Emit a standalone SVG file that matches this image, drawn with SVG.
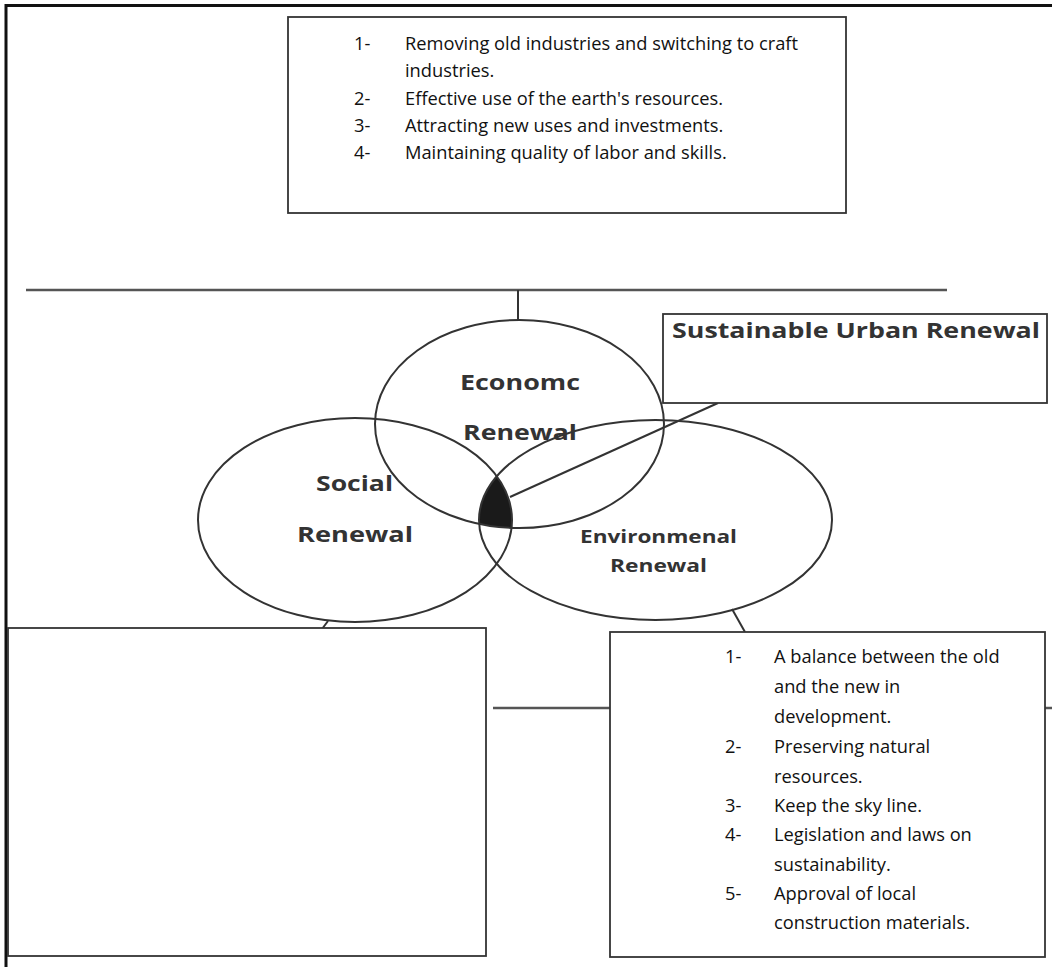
<svg xmlns="http://www.w3.org/2000/svg" width="1052" height="967" viewBox="0 0 1052 967">
<style>
.frame{stroke:#111;stroke-width:3;fill:none}
.box{fill:#fff;stroke:#333;stroke-width:1.8}
.ell{fill:none;stroke:#333;stroke-width:2}
.ln{stroke:#555;stroke-width:2.5;fill:none}
.cn{stroke:#333;stroke-width:2;fill:none}
.t{font-family:"Open Sans","Liberation Sans",sans-serif;font-size:18.3px;fill:#111}
.lb{font-family:"Open Sans","Liberation Sans",sans-serif;font-weight:bold;fill:#333}
</style>
<defs>
<clipPath id="cSoc"><ellipse cx="355" cy="520" rx="157" ry="102"/></clipPath>
<clipPath id="cEnv"><ellipse cx="655.5" cy="520" rx="176.5" ry="100"/></clipPath>
</defs>
<rect width="1052" height="967" fill="#fff"/>
<g id="frame">
<line class="frame" x1="6" y1="5.5" x2="1052" y2="5.5"/>
<line class="frame" x1="6" y1="4" x2="6" y2="967"/>
</g>
<g id="connectors">
<line class="ln" x1="26" y1="290" x2="947" y2="290"/>
<line class="cn" x1="518" y1="290" x2="518" y2="320"/>
<line class="ln" x1="493" y1="708" x2="1052" y2="708"/>
<line class="cn" x1="718" y1="403" x2="510" y2="497"/>
<line class="cn" x1="328" y1="621" x2="322" y2="629"/>
<line class="cn" x1="732" y1="609" x2="745" y2="632"/>
</g>
<g id="core">
<g clip-path="url(#cSoc)"><g clip-path="url(#cEnv)"><ellipse cx="519.5" cy="424" rx="144.5" ry="104" fill="#1a1a1a"/></g></g>
</g>
<g id="economic">
<ellipse class="ell" cx="519.5" cy="424" rx="144.5" ry="104"/>
<text class="lb" x="520" y="390" font-size="21" text-anchor="middle" textLength="120" lengthAdjust="spacingAndGlyphs">Economc</text>
<text class="lb" x="520" y="440" font-size="21" text-anchor="middle" textLength="114" lengthAdjust="spacingAndGlyphs">Renewal</text>
</g>
<g id="social">
<ellipse class="ell" cx="355" cy="520" rx="157" ry="102"/>
<text class="lb" x="354.5" y="491" font-size="21" text-anchor="middle" textLength="77" lengthAdjust="spacingAndGlyphs">Social</text>
<text class="lb" x="355" y="542" font-size="21" text-anchor="middle" textLength="116" lengthAdjust="spacingAndGlyphs">Renewal</text>
</g>
<g id="environmental">
<ellipse class="ell" cx="655.5" cy="520" rx="176.5" ry="100"/>
<text class="lb" x="658.5" y="543" font-size="17" text-anchor="middle" textLength="157" lengthAdjust="spacingAndGlyphs">Environmenal</text>
<text class="lb" x="658.5" y="572" font-size="17" text-anchor="middle" textLength="97" lengthAdjust="spacingAndGlyphs">Renewal</text>
</g>
<g id="sustainable">
<rect class="box" x="663" y="314" width="384" height="89"/>
<text class="lb" x="672" y="338" font-size="21" textLength="368" lengthAdjust="spacingAndGlyphs">Sustainable Urban Renewal</text>
</g>
<g id="economic-list">
<rect class="box" x="288" y="17" width="558" height="196"/>
<text class="t" x="354" y="50">1-</text><text class="t" x="405" y="50">Removing old industries and switching to craft</text>
<text class="t" x="405" y="77">industries.</text>
<text class="t" x="354" y="105">2-</text><text class="t" x="405" y="105">Effective use of the earth's resources.</text>
<text class="t" x="354" y="132">3-</text><text class="t" x="405" y="132">Attracting new uses and investments.</text>
<text class="t" x="354" y="159">4-</text><text class="t" x="405" y="159">Maintaining quality of labor and skills.</text>
</g>
<g id="social-list">
<rect class="box" x="8" y="628" width="478" height="328"/>
</g>
<g id="environmental-list">
<rect class="box" x="610" y="632" width="435" height="325"/>
<text class="t" x="725" y="663">1-</text><text class="t" x="774" y="663">A balance between the old</text>
<text class="t" x="774" y="693">and the new in</text>
<text class="t" x="774" y="723">development.</text>
<text class="t" x="725" y="753">2-</text><text class="t" x="774" y="753">Preserving natural</text>
<text class="t" x="774" y="783">resources.</text>
<text class="t" x="725" y="812">3-</text><text class="t" x="774" y="812">Keep the sky line.</text>
<text class="t" x="725" y="841">4-</text><text class="t" x="774" y="841">Legislation and laws on</text>
<text class="t" x="774" y="871">sustainability.</text>
<text class="t" x="725" y="900">5-</text><text class="t" x="774" y="900">Approval of local</text>
<text class="t" x="774" y="929">construction materials.</text>
</g>
</svg>
